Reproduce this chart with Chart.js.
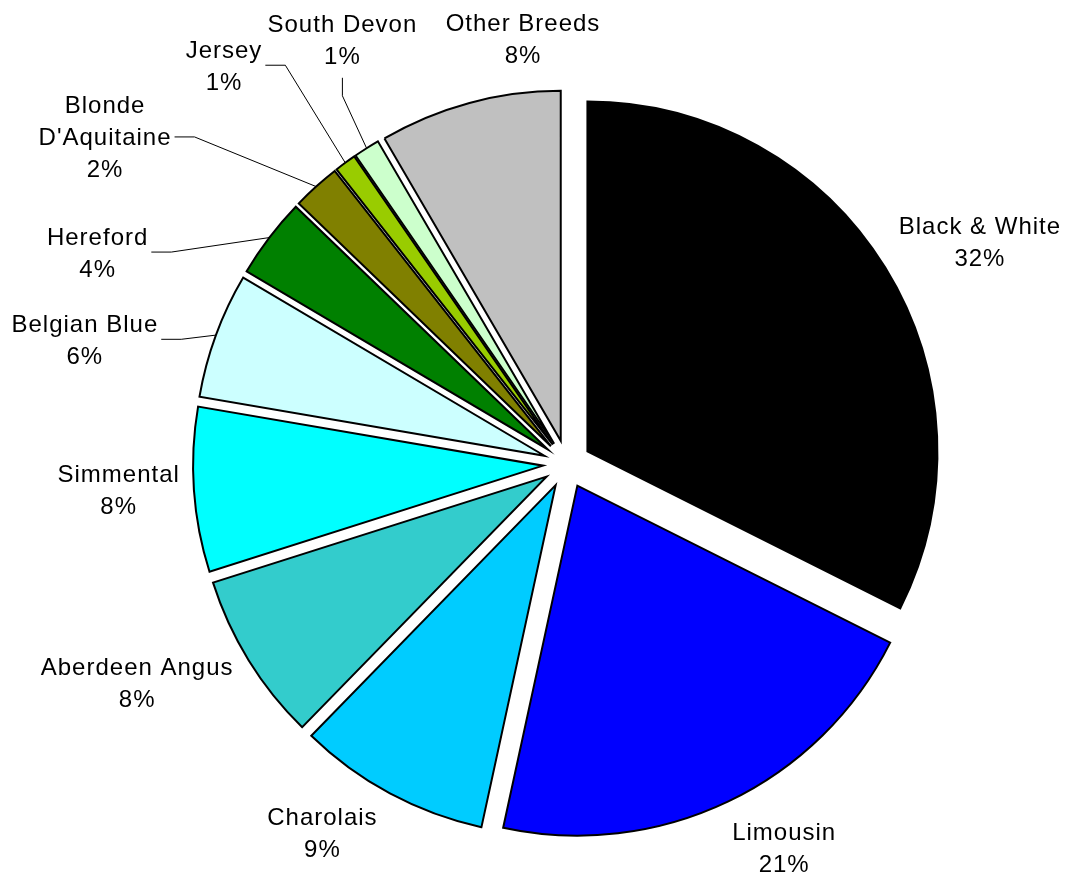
<!DOCTYPE html>
<html>
<head>
<meta charset="utf-8">
<script src="https://cdn.jsdelivr.net/npm/chart.js@4.4.1/dist/chart.umd.min.js"></script>
<style>
  html, body { margin: 0; padding: 0; background: #fff; }
  canvas { display: block; }
</style>
</head>
<body>
<canvas id="breeds-chart" width="1069" height="875"></canvas>
<script>
// breeds, clockwise from 12 o'clock
const breeds = ['Black & White', 'Limousin', 'Charolais', 'Aberdeen Angus', 'Simmental',
    'Belgian Blue', 'Hereford', ['Blonde', "D'Aquitaine"], 'Jersey', 'South Devon', 'Other Breeds'];
// share of the herd in %
const shares = [32.4, 21.0, 8.9, 7.8, 7.6, 5.8, 3.7, 2.2, 1.0, 1.2, 8.4];
const colors = ['#000000', '#0000ff', '#00ccff', '#33cccc', '#00ffff',
    '#ccffff', '#008000', '#808000', '#99cc00', '#ccffcc', '#c0c0c0'];

// where each label sits: [degrees clockwise from 12 o'clock, px from pie centre]
const labelSpots = [[61.7, 469], [150.5, 441], [213.6, 442], [243.1, 482], [266.8, 449],
    [284.5, 498], [294.3, 515], [305.3, 566], [319.3, 526], [332.1, 480], [354.1, 428]];
// which labels get a leader line, and from which side of the label
const leaders = [null, null, null, null, null, 'right', 'right', 'right', 'right', 'bottom', null];

const EXPLODE = 24;   // every slice pulled out by this much
const LINE_H = 32;

// pull each slice out along its middle angle (excel style explode)
const explode = {
    id: 'explode',
    beforeDatasetsDraw(chart) {
        chart.getDatasetMeta(0).data.forEach(arc => {
            if (arc._exploded) return;
            const baseDraw = arc.draw;
            arc.draw = function (ctx) {
                const mid = (this.startAngle + this.endAngle) / 2;
                ctx.save();
                ctx.translate(Math.cos(mid) * EXPLODE, Math.sin(mid) * EXPLODE);
                baseDraw.call(this, ctx);
                ctx.restore();
            };
            arc._exploded = true;
        });
    }
};

//labels outside the pie, with leader lines for the small ones
const sliceLabels = {
    id: 'sliceLabels',
    afterDatasetsDraw(chart) {
        const ctx = chart.ctx;
        const meta = chart.getDatasetMeta(0);
        ctx.save();
        ctx.font = '24px "Liberation Sans", Arial, sans-serif';
        ctx.letterSpacing = '1px';
        ctx.textAlign = 'center';
        ctx.textBaseline = 'alphabetic';
        ctx.fillStyle = '#000';
        ctx.strokeStyle = '#000';
        ctx.lineWidth = 1;
        meta.data.forEach((arc, i) => {
            const name = breeds[i];
            const lines = (Array.isArray(name) ? name : [name]).concat(Math.round(shares[i]) + '%');
            const a = labelSpots[i][0] * Math.PI / 180;
            const cx = arc.x + Math.sin(a) * labelSpots[i][1];
            const cy = arc.y - Math.cos(a) * labelSpots[i][1];
            const first = cy - (lines.length - 1) * LINE_H / 2;
            lines.forEach((t, k) => ctx.fillText(t, cx, first + k * LINE_H + 8.5));

            if (!leaders[i]) return;
            const mid = (arc.startAngle + arc.endAngle) / 2;
            const r = arc.outerRadius + EXPLODE;
            const ex = arc.x + Math.cos(mid) * r;
            const ey = arc.y + Math.sin(mid) * r;
            let sx, sy, kx, ky;
            if (leaders[i] === 'right') {
                const w = Math.max(...lines.map(t => ctx.measureText(t).width));
                sx = cx + w / 2 + 3; sy = cy;
                kx = sx + 20; ky = sy;
            } else {
                sx = cx; sy = cy + lines.length * LINE_H / 2 + 6;
                kx = sx; ky = sy + 18;
            }
            ctx.beginPath();
            ctx.moveTo(sx, sy);
            ctx.lineTo(kx, ky);
            ctx.lineTo(ex, ey);
            ctx.stroke();
        });
        ctx.restore();
    }
};

new Chart(document.querySelector('#breeds-chart').getContext('2d'), {
    type: 'pie',
    data: {
        labels: breeds,
        datasets: [{
            data: shares,
            backgroundColor: colors,
            borderColor: '#000',
            borderWidth: 2,
            borderJoinStyle: 'miter',
            radius: 350
        }]
    },
    options: {
        responsive: false,
        animation: false,
        events: [],
        radius: 350,
        layout: { padding: { left: 65, top: 53, right: 0, bottom: 0 } },
        plugins: {
            legend: { display: false },
            tooltip: { enabled: false }
        }
    },
    plugins: [explode, sliceLabels]
});
</script>
</body>
</html>
